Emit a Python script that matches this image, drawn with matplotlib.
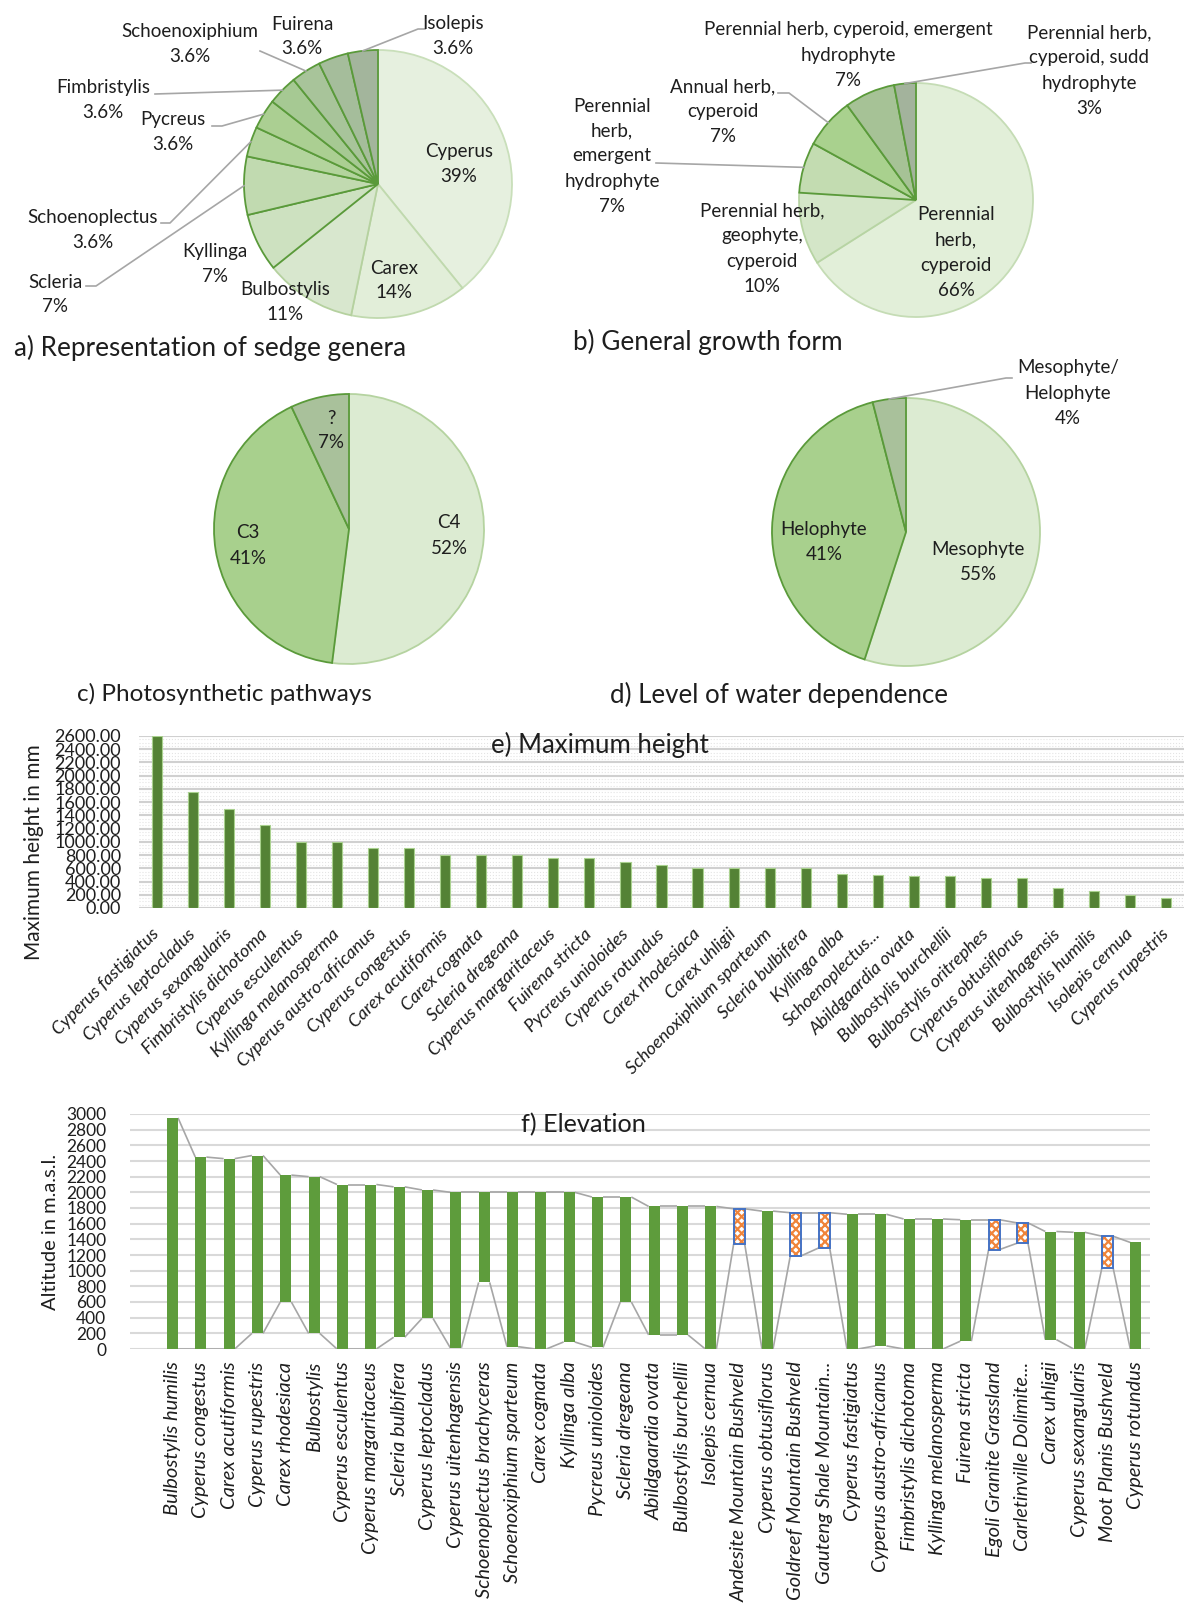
import matplotlib
matplotlib.use("Agg")
import matplotlib.pyplot as plt
from matplotlib.lines import Line2D
import numpy as np

plt.rcParams['font.family'] = ['Lato', 'DejaVu Sans']
plt.rcParams['hatch.linewidth'] = 1.6

W, H = 1200, 1614
TXT = '#1e1e1e'

# ---------------- data ----------------
genera = ["Cyperus", "Carex", "Bulbostylis", "Kyllinga", "Scleria", "Schoenoplectus",
          "Pycreus", "Fimbristylis", "Schoenoxiphium", "Fuirena", "Isolepis"]
genera_pct = [39, 14, 11, 7, 7, 3.6, 3.6, 3.6, 3.6, 3.6, 3.6]

growth_forms = ["Perennial\nherb,\ncyperoid", "Perennial herb,\ngeophyte,\ncyperoid",
                "Perennial\nherb,\nemergent\nhydrophyte", "Annual herb,\ncyperoid",
                "Perennial herb, cyperoid, emergent\nhydrophyte",
                "Perennial herb,\ncyperoid, sudd\nhydrophyte"]
growth_pct = [66, 10, 7, 7, 7, 3]

pathways = ["C4", "C3", "?"]
pathway_pct = [52, 41, 7]

water = ["Mesophyte", "Helophyte", "Mesophyte/\nHelophyte"]
water_pct = [55, 41, 4]

height_species = ["Cyperus fastigiatus", "Cyperus leptocladus", "Cyperus sexangularis",
                  "Fimbristylis dichotoma", "Cyperus esculentus", "Kyllinga melanosperma",
                  "Cyperus austro-africanus", "Cyperus congestus", "Carex acutiformis",
                  "Carex cognata", "Scleria dregeana", "Cyperus margaritaceus", "Fuirena stricta",
                  "Pycreus unioloides", "Cyperus rotundus", "Carex rhodesiaca", "Carex uhligii",
                  "Schoenoxiphium sparteum", "Scleria bulbifera", "Kyllinga alba",
                  "Schoenoplectus...", "Abildgaardia ovata", "Bulbostylis burchellii",
                  "Bulbostylis oritrephes", "Cyperus obtusiflorus", "Cyperus uitenhagensis",
                  "Bulbostylis humilis", "Isolepis cernua", "Cyperus rupestris"]
max_height = [2600, 1750, 1500, 1250, 1000, 1000, 900, 900, 800, 800, 800, 750, 750,
              700, 650, 600, 600, 600, 600, 520, 500, 490, 490, 450, 450, 300, 250, 200, 150]

elev_labels = ["", "Bulbostylis humilis", "Cyperus congestus", "Carex acutiformis",
               "Cyperus rupestris", "Carex rhodesiaca", "Bulbostylis", "Cyperus esculentus",
               "Cyperus margaritaceus", "Scleria bulbifera", "Cyperus leptocladus",
               "Cyperus uitenhagensis", "Schoenoplectus brachyceras", "Schoenoxiphium sparteum",
               "Carex cognata", "Kyllinga alba", "Pycreus unioloides", "Scleria dregeana",
               "Abildgaardia ovata", "Bulbostylis burchellii", "Isolepis cernua",
               "Andesite Mountain Bushveld", "Cyperus obtusiflorus", "Goldreef Mountain Bushveld",
               "Gauteng Shale Mountain...", "Cyperus fastigiatus", "Cyperus austro-africanus",
               "Fimbristylis dichotoma", "Kyllinga melanosperma", "Fuirena stricta",
               "Egoli Granite Grassland", "Carletinville Dolimite...", "Carex uhligii",
               "Cyperus sexangularis", "Moot Planis Bushveld", "Cyperus rotundus"]
elev_high = [None, 2950, 2450, 2430, 2470, 2220, 2200, 2100, 2100, 2070, 2030, 2000, 2000, 2000,
             2000, 2000, 1940, 1940, 1820, 1820, 1820, 1790, 1760, 1740, 1740, 1720, 1720,
             1660, 1660, 1650, 1650, 1610, 1500, 1490, 1440, 1360]
elev_low = [None, 0, 0, 0, 200, 600, 200, 0, 0, 150, 390, 15, 850, 30, 0, 90, 20, 600, 180, 180,
            0, 1340, 0, 1190, 1290, 0, 40, 0, 0, 100, 1270, 1350, 120, 0, 1040, 0]
veg_units = ["Andesite Mountain Bushveld", "Goldreef Mountain Bushveld",
             "Gauteng Shale Mountain...", "Egoli Granite Grassland",
             "Carletinville Dolimite...", "Moot Planis Bushveld"]

# ---------------- helpers ----------------
fig = plt.figure(figsize=(W / 100, H / 100), dpi=100)


def fxy(x, y):
    return x / W, 1 - y / H


def text_lines(x, y, lines, size=13.5, pitch=25):
    for i, s in enumerate(lines):
        fig.text(*fxy(x, y + i * pitch), s, ha='center', va='center',
                 fontsize=size, color=TXT)


def leader(points):
    xs = [p[0] / W for p in points]
    ys = [1 - p[1] / H for p in points]
    fig.add_artist(Line2D(xs, ys, transform=fig.transFigure, color='#a6a6a6', lw=1.2))


def draw_pie(cx, cy, r, values, colors, edges):
    pad = 1.06
    ax = fig.add_axes([(cx - r * pad) / W, 1 - (cy + r * pad) / H,
                       2 * r * pad / W, 2 * r * pad / H])
    wedges, _ = ax.pie(values, startangle=90, counterclock=False, colors=colors,
                       radius=1.0, wedgeprops=dict(linewidth=1.3))
    for w, e in zip(wedges, edges):
        w.set_edgecolor(e)
    ax.set_xlim(-pad, pad)
    ax.set_ylim(-pad, pad)
    ax.set_aspect('equal')
    ax.axis('off')
    tot = float(sum(values))
    cum = 0.0
    pts = []
    for v in values:
        mid = np.radians(90 - 360 * (cum + v / 2) / tot)
        pts.append((cx + r * np.cos(mid), cy - r * np.sin(mid)))
        cum += v
    return pts


def pct_label(v):
    return f"{v:g}%"


DARK = '#5a9a3a'

# ---------------- pie a ----------------
cols_a = ['#e6f0df', '#e2eed9', '#d8e7ce', '#cde1c0', '#c1dab0', '#b3d49d', '#abcf92',
          '#a6c993', '#a8c49a', '#a5bd9b', '#a3b59c']
edges_a = ['#c9dfba', '#c0d9ae', '#b5d19f'] + [DARK] * 8
pts_a = draw_pie(378, 184, 134, genera_pct, cols_a, edges_a)
pos_a = [(459, 151), (394, 268), (285, 290), (215, 252), (55, 282), (93, 217),
         (173, 120), (103, 88), (190, 32), (302, 24), (453, 24)]
for name, v, (x, y) in zip(genera, genera_pct, pos_a):
    text_lines(x, y, name.split("\n") + [pct_label(v)])
leader([(86, 286), (96, 286), pts_a[4]])
leader([(161, 223), (170, 223), pts_a[5]])
leader([(212, 126), (222, 126), pts_a[6]])
leader([(155, 94), pts_a[7]])
leader([(260, 51), pts_a[8]])
leader([(425, 29), (418, 29), pts_a[10]])
fig.text(*fxy(14, 348), "a) Representation of sedge genera", ha='left', va='center',
         fontsize=18.8, color=TXT)

# ---------------- pie b ----------------
cols_b = ['#e2efd9', '#d4e6c8', '#c3dcb1', '#a9d18e', '#a6c296', '#a3b39c']
edges_b = ['#c5dcb5', '#b7d4a3', DARK, DARK, DARK, DARK]
pts_b = draw_pie(916, 200, 117, growth_pct, cols_b, edges_b)
pos_b = [(956, 215), (762, 211), (612, 106), (723, 87), (848, 30), (1089, 33)]
for name, v, (x, y) in zip(growth_forms, growth_pct, pos_b):
    text_lines(x, y, name.split("\n") + [pct_label(v)])
leader([(1031, 63), (1025, 63), pts_b[5]])
leader([(778, 93), (789, 93), pts_b[3]])
leader([(656, 163), pts_b[2]])
fig.text(*fxy(573, 342), "b) General growth form", ha='left', va='center',
         fontsize=18.8, color=TXT)

# ---------------- pie c ----------------
cols_c = ['#dcebd2', '#a8d08d', '#a9c19b']
edges_c = ['#b5d3a0', DARK, DARK]
draw_pie(349, 529, 135, pathway_pct, cols_c, edges_c)
pos_c = [(449, 523), (248, 533), (331, 418)]
for name, v, (x, y) in zip(pathways, pathway_pct, pos_c):
    text_lines(x, y, name.split("\n") + [pct_label(v)])
fig.text(*fxy(77, 694), "c) Photosynthetic pathways", ha='left', va='center',
         fontsize=17.5, color=TXT)

# ---------------- pie d ----------------
pts_d = draw_pie(906, 532, 134, water_pct, cols_c, edges_c)
pos_d = [(978, 550), (824, 530), (1068, 368)]
for name, v, (x, y) in zip(water, water_pct, pos_d):
    text_lines(x, y, name.split("\n") + [pct_label(v)])
leader([(1012, 378), (1006, 378), pts_d[2]])
fig.text(*fxy(610, 695), "d) Level of water dependence", ha='left', va='center',
         fontsize=18.6, color=TXT)

# ---------------- e) maximum height ----------------
ax_e = fig.add_axes([139 / W, 1 - 908 / H, (1184 - 139) / W, (908 - 736) / H])
xe = np.arange(len(height_species))
ax_e.bar(xe, max_height, width=0.28, color='#548235', edgecolor='#a9d18e',
         linewidth=0.8, zorder=3)
ax_e.set_xlim(-0.5, len(height_species) - 0.5)
ax_e.set_ylim(0, 2600)
yt = np.arange(0, 2601, 200)
ax_e.set_yticks(yt)
ax_e.set_yticklabels([f"{v:.2f}" for v in yt], fontsize=13, color=TXT)
ax_e.set_yticks(np.arange(0, 2601, 50), minor=True)
ax_e.grid(axis='y', which='major', color='#d0d0d0', lw=1.5, zorder=0)
ax_e.grid(axis='y', which='minor', color='#e4e4e4', lw=0.8, linestyle=':', zorder=0)
ax_e.set_axisbelow(True)
ax_e.tick_params(axis='both', which='both', length=0)
ax_e.tick_params(axis='y', pad=13)
ax_e.tick_params(axis='x', pad=17)
ax_e.set_xticks(xe)
ax_e.set_xticklabels(height_species, rotation=45, ha='right', va='center',
                     rotation_mode='anchor', fontsize=13, style='italic', color=TXT)
for s in ax_e.spines.values():
    s.set_visible(False)
fig.text(*fxy(600, 745), "e) Maximum height", ha='center', va='center',
         fontsize=18.5, color=TXT)
fig.text(*fxy(34, 852), "Maximum height in mm", rotation=90, ha='center', va='center',
         fontsize=15, color=TXT)

# ---------------- f) elevation ----------------
ax_f = fig.add_axes([130 / W, 1 - 1349 / H, (1150 - 130) / W, (1349 - 1114) / H])
xf = np.arange(len(elev_labels))
lo = np.array([np.nan if v is None else v for v in elev_low], dtype=float)
hi = np.array([np.nan if v is None else v for v in elev_high], dtype=float)
bw = 0.39
for i, lab in enumerate(elev_labels):
    if np.isnan(hi[i]):
        continue
    if lab in veg_units:
        ax_f.bar(xf[i], hi[i] - lo[i], bottom=lo[i], width=bw, facecolor='white',
                 hatch='xxxx', edgecolor='#f0843a', linewidth=0, zorder=3)
        ax_f.bar(xf[i], hi[i] - lo[i], bottom=lo[i], width=bw, fill=False,
                 edgecolor='#4472c4', linewidth=1.4, zorder=4)
    else:
        ax_f.bar(xf[i], hi[i] - lo[i], bottom=lo[i], width=bw, color='#5e9c3c',
                 linewidth=0, zorder=3)
for series in (lo, hi):
    for i in range(len(xf) - 1):
        if np.isnan(series[i]) or np.isnan(series[i + 1]):
            continue
        ax_f.plot([xf[i] + bw / 2, xf[i + 1] - bw / 2], [series[i], series[i + 1]],
                  color='#a6a6a6', lw=1.2, zorder=2, solid_capstyle='butt')
ax_f.set_xlim(-0.5, len(elev_labels) - 0.5)
ax_f.set_ylim(0, 3000)
yt = np.arange(0, 3001, 200)
ax_f.set_yticks(yt)
ax_f.set_yticklabels([f"{v:d}" for v in yt], fontsize=12.5, color=TXT)
ax_f.grid(axis='y', color='#d9d9d9', lw=1.5, zorder=0)
ax_f.set_axisbelow(True)
ax_f.tick_params(axis='both', which='both', length=0)
ax_f.tick_params(axis='y', pad=17)
ax_f.tick_params(axis='x', pad=9)
ax_f.set_xticks(xf)
ax_f.set_xticklabels(elev_labels, rotation=90, ha='center', va='top', fontsize=14.5,
                     style='italic', color=TXT)
for s in ax_f.spines.values():
    s.set_visible(False)
fig.text(*fxy(583, 1125), "f) Elevation", ha='center', va='center', fontsize=18.2, color=TXT)
fig.text(*fxy(51, 1232), "Altitude in m.a.s.l.", rotation=90, ha='center', va='center',
         fontsize=14.5, color=TXT)

fig.savefig("out.png", dpi=100, facecolor='white')
